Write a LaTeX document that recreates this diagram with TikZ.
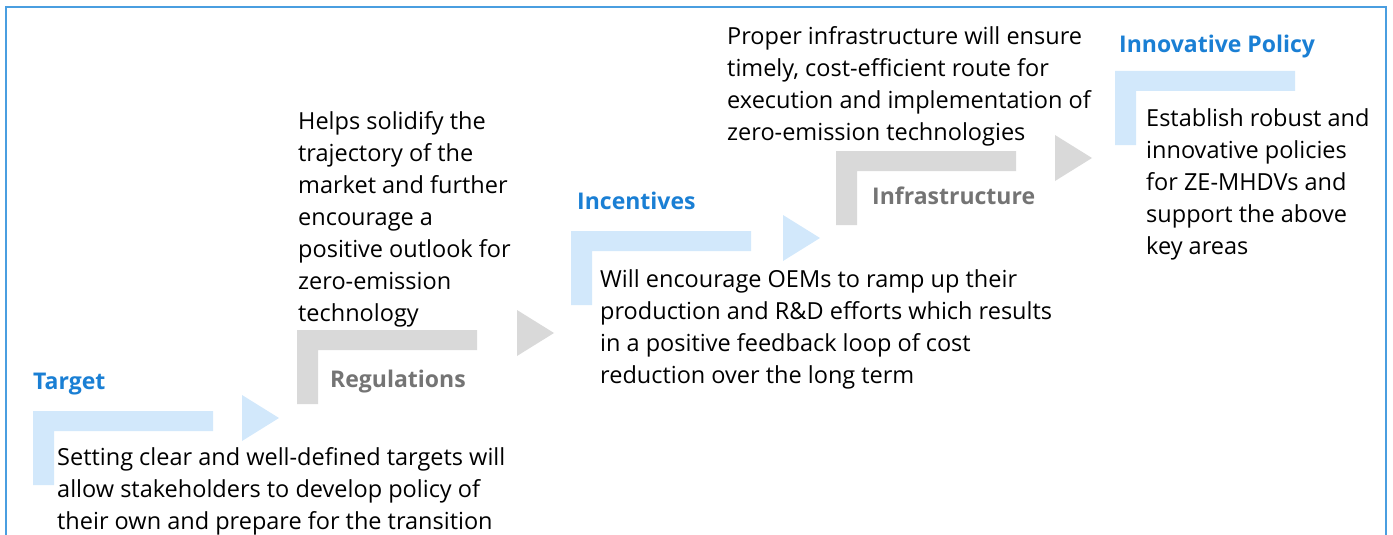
\documentclass[tikz,border=0pt]{standalone}
\usepackage{fontspec}
\setmainfont{Open Sans}[Ligatures=CommonOff]
\definecolor{framec}{HTML}{4A9EE0}
\definecolor{headblue}{HTML}{1A7FD4}
\definecolor{lightblue}{HTML}{D2E8FB}
\definecolor{barGray}{HTML}{D9D9D9}
\definecolor{labGray}{HTML}{747474}
\newcommand\Lbar[3]{\fill[#3] (#1,#2) rectangle ++(180,20) (#1,#2) rectangle ++(21,74);}
\newcommand\Tri[3]{\fill[#3] (#1,#2-23) -- (#1+37,#2) -- (#1,#2+23) -- cycle;}
\newcommand\fs{\rule{0pt}{25pt}}
\tikzset{
  body/.style={anchor=north west, inner sep=0pt, align=left, text=black,
    font={\fontsize{23.5}{32}\selectfont}},
  head/.style={anchor=base west, inner sep=0pt, text=headblue,
    font={\fontsize{23}{32}\selectfont\bfseries}},
  glab/.style={anchor=base west, inner sep=0pt, text=labGray,
    font={\fontsize{23}{32}\selectfont\bfseries}},
}
\begin{document}
\begin{tikzpicture}[x=1pt,y=-1pt]
\useasboundingbox (0,0) rectangle (1393,535);
\draw[framec, line width=2pt] (6,545) -- (6,7) -- (1386,7) -- (1386,545);
% Target
\Lbar{33}{411}{lightblue}
\Tri{242}{418}{lightblue}
\node[head] (targetH) at (33,389) {Target};
\node[body] (targetB) at (57,465-25) {\fs Setting clear and well-defined targets will\\allow stakeholders to develop policy of\\their own and prepare for the transition};
% Regulations
\Lbar{297}{330}{barGray}
\Tri{517}{333}{barGray}
\node[glab] (regH) at (330,387) {Regulations};
\node[body] (regB) at (298,129-25) {\fs Helps solidify the\\trajectory of the\\market and further\\encourage a\\positive outlook for\\zero-emission\\technology};
% Incentives
\Lbar{571}{231}{lightblue}
\Tri{783}{238}{lightblue}
\node[head] (incH) at (577,209) {Incentives};
\node[body] (incB) at (600,287-25) {\fs Will encourage OEMs to ramp up their\\production and R\&D efforts which results\\in a positive feedback loop of cost\\reduction over the long term};
% Infrastructure
\Lbar{836}{151}{barGray}
\Tri{1055}{158}{barGray}
\node[glab] (infH) at (872,204) {Infrastructure};
\node[body] (infB) at (727,44-25) {\fs Proper infrastructure will ensure\\timely, cost-efficient route for\\execution and implementation of\\zero-emission technologies};
% Innovative Policy
\Lbar{1115}{71}{lightblue}
\node[head] (innH) at (1119,53) {Innovative Policy};
\node[body] (innB) at (1146,126-25) {\fs Establish robust and\\innovative policies\\for ZE-MHDVs and\\support the above\\key areas};
\end{tikzpicture}
\end{document}
